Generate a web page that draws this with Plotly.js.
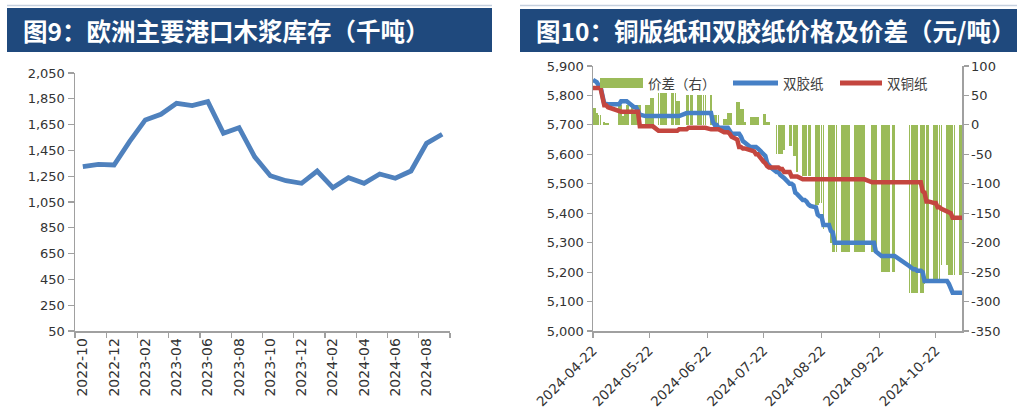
<!DOCTYPE html>
<html>
<head>
<meta charset="utf-8">
<script src="https://cdn.plot.ly/plotly-3.0.1.min.js"></script>
<style>
html,body{margin:0;padding:0;background:#fff;}
#chart{width:1019px;height:420px;}
</style>
</head>
<body>
<div id="chart"></div>
<script>
// ---------- Figure 9: European port pulp stocks (kt) ----------
const months = ['2022-10','2022-11','2022-12','2023-01','2023-02','2023-03','2023-04','2023-05',
  '2023-06','2023-07','2023-08','2023-09','2023-10','2023-11','2023-12','2024-01','2024-02',
  '2024-03','2024-04','2024-05','2024-06','2024-07','2024-08','2024-09'];
const pulpStock = [1324,1342,1337,1520,1686,1730,1815,1797,1828,1583,1626,1400,1254,1215,1195,
  1290,1161,1238,1195,1267,1234,1290,1505,1575];

// ---------- Figure 10: coated / offset paper prices and spread ----------
const dates = [
'2024-04-22','2024-04-23','2024-04-24','2024-04-25','2024-04-26',
'2024-04-28','2024-04-29','2024-04-30',
'2024-05-06','2024-05-07','2024-05-08','2024-05-09','2024-05-10','2024-05-11',
'2024-05-13','2024-05-14','2024-05-15','2024-05-16','2024-05-17',
'2024-05-20','2024-05-21','2024-05-22','2024-05-23','2024-05-24',
'2024-05-27','2024-05-28','2024-05-29','2024-05-30','2024-05-31',
'2024-06-03','2024-06-04','2024-06-05','2024-06-06','2024-06-07',
'2024-06-11','2024-06-12','2024-06-13','2024-06-14',
'2024-06-17','2024-06-18','2024-06-19','2024-06-20','2024-06-21',
'2024-06-24','2024-06-25','2024-06-26','2024-06-27','2024-06-28',
'2024-07-01','2024-07-02','2024-07-03','2024-07-04','2024-07-05',
'2024-07-08','2024-07-09','2024-07-10','2024-07-11','2024-07-12',
'2024-07-15','2024-07-16','2024-07-17','2024-07-18','2024-07-19',
'2024-07-22','2024-07-23','2024-07-24','2024-07-25','2024-07-26',
'2024-07-29','2024-07-30','2024-07-31','2024-08-01','2024-08-02',
'2024-08-05','2024-08-06','2024-08-07','2024-08-08','2024-08-09',
'2024-08-12','2024-08-13','2024-08-14','2024-08-15','2024-08-16',
'2024-08-19','2024-08-20','2024-08-21','2024-08-22','2024-08-23',
'2024-08-26','2024-08-27','2024-08-28','2024-08-29','2024-08-30',
'2024-09-02','2024-09-03','2024-09-04','2024-09-05','2024-09-06',
'2024-09-09','2024-09-10','2024-09-11','2024-09-12','2024-09-13','2024-09-14',
'2024-09-18','2024-09-19','2024-09-20',
'2024-09-23','2024-09-24','2024-09-25','2024-09-26','2024-09-27',
'2024-09-29','2024-09-30',
'2024-10-08','2024-10-09','2024-10-10','2024-10-11','2024-10-12',
'2024-10-14','2024-10-15','2024-10-16','2024-10-17','2024-10-18',
'2024-10-21','2024-10-22','2024-10-23','2024-10-24','2024-10-25',
'2024-10-28','2024-10-29','2024-10-30','2024-10-31','2024-11-01',
'2024-11-04','2024-11-05'];

// 双胶纸 (offset paper)
const offsetPaper = [
5853,5850,5845,5835,5830,
5772,5770,5770,
5770,5780,5780,5780,5780,5775,
5765,5760,5760,5745,5735,
5730,5730,5730,5730,5730,
5730,5730,5730,5730,5730,
5730,5730,5730,5730,5730,
5740,5740,5740,5740,
5740,5740,5740,5740,5740,
5740,5710,5700,5700,5690,
5690,5690,5690,5680,5670,
5670,5670,5660,5645,5640,
5625,5625,5625,5625,5620,
5600,5595,5570,5560,5555,
5540,5540,5530,5525,5520,
5500,5500,5495,5470,5465,
5445,5445,5440,5430,5425,
5420,5395,5390,5390,5360,
5360,5340,5335,5300,5300,
5300,5300,5300,5300,5300,
5300,5300,5300,5300,5300,5300,
5300,5300,5270,
5255,5255,5255,5255,5255,
5255,5255,
5220,5215,5210,5210,5205,
5205,5200,5170,5170,5170,
5170,5170,5170,5170,5170,
5170,5160,5145,5130,5130,
5130,5130];

// 双铜纸 (coated paper)
const coatedPaper = [
5825,5825,5825,5825,5825,
5767,5767,5760,
5745,5745,5745,5745,5745,5745,
5745,5745,5745,5745,5695,
5695,5695,5695,5695,5695,
5680,5680,5680,5680,5680,
5680,5680,5680,5680,5685,
5685,5690,5690,5690,
5690,5690,5690,5690,5690,
5685,5685,5685,5685,5685,
5675,5675,5675,5670,5660,
5650,5625,5625,5620,5620,
5615,5615,5610,5600,5600,
5575,5570,5560,5555,5555,
5555,5555,5550,5550,5540,
5540,5525,5525,5525,5525,
5515,5515,5515,5515,5515,
5515,5515,5515,5515,5515,
5515,5515,5515,5515,5515,
5515,5515,5515,5515,5515,
5515,5515,5515,5515,5515,5515,
5505,5505,5505,
5505,5505,5505,5505,5505,
5505,5505,
5505,5505,5505,5505,5505,
5505,5475,5470,5440,5440,
5435,5435,5420,5420,5415,
5405,5400,5400,5385,5385,
5385,5385];

// 价差 (spread, right axis)
const spread = [
28,28,20,16,16,
5,3,3,
34,34,15,20,34,34,
34,20,34,34,34,
34,34,34,45,45,
55,55,55,55,55,
55,55,55,40,40,
51,51,51,51,
51,51,51,51,51,
51,17,17,17,17,
10,10,21,21,21,
39,39,27,27,5,
13,13,13,13,13,
19,19,5,5,0,
-50,-50,-50,-50,-43,
-35,-35,-52,-52,-80,
-86,-86,-86,-86,-86,
-136,-136,-133,-133,-176,
-176,-200,-216,-216,-216,
-216,-216,-216,-216,-216,
-216,-216,-216,-216,-216,-216,
-216,-216,-216,
-250,-250,-250,-250,-250,
-250,-250,
-286,-286,-286,-286,-286,
-286,-286,-270,-265,-261,
-261,-261,-261,-261,-238,
-238,-255,-255,-255,-255,
-255,-255];

const dateTicks = ['2024-04-22','2024-05-22','2024-06-22','2024-07-22','2024-08-22','2024-09-22','2024-10-22'];
const spreadTicks = [-350,-300,-250,-200,-150,-100,-50,0,50,100];
const spreadTickText = ['-350','-300','-250','-200','-150','-100','-50','0','50','100'];

const title1 = '图9：欧洲主要港口木浆库存（千吨）';
const title2 = '图10：铜版纸和双胶纸价格及价差（元/吨）';
const legendNames = ['价差（右）','双胶纸','双铜纸'];

// ---------- layout helpers ----------
const W = 1019, H = 420;
const px = v => v / W;
const py = v => 1 - v / H;

const axisGray = '#A0A0A0';
const tickFont = {family: 'DejaVu Sans, Verdana, sans-serif', size: 13, color: '#333333'};
const cnFont = 'Noto Sans CJK SC, sans-serif';

const traces = [
  {
    type: 'scatter', mode: 'lines', x: months, y: pulpStock,
    xaxis: 'x', yaxis: 'y',
    line: {color: '#4F81BD', width: 4.8}, showlegend: false, hoverinfo: 'x+y'
  },
  {
    type: 'bar', x: dates, y: spread, name: legendNames[0],
    xaxis: 'x2', yaxis: 'y2',
    marker: {color: '#9BBB59', line: {width: 0}},
    width: 86400000 * 0.9, showlegend: false
  },
  {
    type: 'scatter', mode: 'lines', x: dates, y: offsetPaper, name: legendNames[1],
    xaxis: 'x2', yaxis: 'y3',
    line: {color: '#4680C6', width: 4.5}, showlegend: false
  },
  {
    type: 'scatter', mode: 'lines', x: dates, y: coatedPaper, name: legendNames[2],
    xaxis: 'x2', yaxis: 'y3',
    line: {color: '#C4463F', width: 4.5}, showlegend: false
  }
];

const baseAxis = {
  showgrid: false, zeroline: false, showline: true,
  linecolor: axisGray, linewidth: 1.5,
  ticks: 'outside', ticklen: 5, tickwidth: 1.2, tickcolor: axisGray,
  tickfont: tickFont, fixedrange: true
};

const layout = {
  width: W, height: H,
  margin: {l: 0, r: 0, t: 0, b: 0},
  paper_bgcolor: '#ffffff', plot_bgcolor: 'rgba(0,0,0,0)',
  showlegend: false,
  bargap: 0,
  xaxis: Object.assign({}, baseAxis, {
    type: 'category', domain: [px(75), px(450)], anchor: 'y',
    range: [-0.5, 23.5], tickson: 'boundaries', dtick: 2, tick0: 0,
    tickangle: -90, tickfont: Object.assign({}, tickFont, {size: 14})
  }),
  yaxis: Object.assign({}, baseAxis, {
    domain: [py(331), py(73)], anchor: 'x',
    range: [50, 2050], tick0: 50, dtick: 200, tickformat: ',d', ticklen: 6
  }),
  xaxis2: Object.assign({}, baseAxis, {
    type: 'date', domain: [px(593), px(962)], anchor: 'y2',
    range: ['2024-04-22', '2024-11-05'],
    tickmode: 'array', tickvals: dateTicks, ticktext: dateTicks,
    tickangle: -45, tickfont: Object.assign({}, tickFont, {size: 13.5})
  }),
  yaxis2: Object.assign({}, baseAxis, {
    domain: [py(331), py(66)], anchor: 'x2', side: 'right',
    range: [-350, 100], tickmode: 'array', tickvals: spreadTicks, ticktext: spreadTickText
  }),
  yaxis3: Object.assign({}, baseAxis, {
    overlaying: 'y2', anchor: 'x2', side: 'left',
    range: [5000, 5900], tick0: 5000, dtick: 100, tickformat: ',d'
  }),
  shapes: [
    // banners
    {type: 'line', xref: 'paper', yref: 'paper', x0: px(7), x1: px(492), y0: py(5.5), y1: py(5.5),
     line: {color: '#C5D0DE', width: 1.5}},
    {type: 'rect', xref: 'paper', yref: 'paper', x0: px(7), x1: px(492), y0: py(52), y1: py(8),
     fillcolor: '#1F497D', line: {width: 0}},
    {type: 'line', xref: 'paper', yref: 'paper', x0: px(520), x1: px(1017), y0: py(5.5), y1: py(5.5),
     line: {color: '#C5D0DE', width: 1.5}},
    {type: 'rect', xref: 'paper', yref: 'paper', x0: px(520), x1: px(1017), y0: py(52), y1: py(9),
     fillcolor: '#1F497D', line: {width: 0}},
    // custom legend samples
    {type: 'rect', xref: 'paper', yref: 'paper', x0: px(600), x1: px(643), y0: py(88), y1: py(78),
     fillcolor: '#9BBB59', line: {width: 0}},
    {type: 'line', xref: 'paper', yref: 'paper', x0: px(733), x1: px(778), y0: py(83), y1: py(83),
     line: {color: '#4680C6', width: 5}},
    {type: 'line', xref: 'paper', yref: 'paper', x0: px(840), x1: px(882), y0: py(83), y1: py(83),
     line: {color: '#C4463F', width: 5}}
  ],
  annotations: [
    {xref: 'paper', yref: 'paper', x: px(21), y: py(31), xanchor: 'left', yanchor: 'middle',
     text: title1, showarrow: false,
     font: {family: cnFont, size: 24.5, color: '#ffffff', weight: 700}},
    {xref: 'paper', yref: 'paper', x: px(534), y: py(31), xanchor: 'left', yanchor: 'middle',
     text: title2, showarrow: false,
     font: {family: cnFont, size: 24.5, color: '#ffffff', weight: 700}},
    {xref: 'paper', yref: 'paper', x: px(646), y: py(83), xanchor: 'left', yanchor: 'middle',
     text: legendNames[0], showarrow: false, font: {family: cnFont, size: 13.5, color: '#404040'}},
    {xref: 'paper', yref: 'paper', x: px(781), y: py(83), xanchor: 'left', yanchor: 'middle',
     text: legendNames[1], showarrow: false, font: {family: cnFont, size: 13.5, color: '#404040'}},
    {xref: 'paper', yref: 'paper', x: px(885), y: py(83), xanchor: 'left', yanchor: 'middle',
     text: legendNames[2], showarrow: false, font: {family: cnFont, size: 13.5, color: '#404040'}}
  ]
};

Plotly.newPlot('chart', traces, layout, {displayModeBar: false, staticPlot: true});
</script>
</body>
</html>
